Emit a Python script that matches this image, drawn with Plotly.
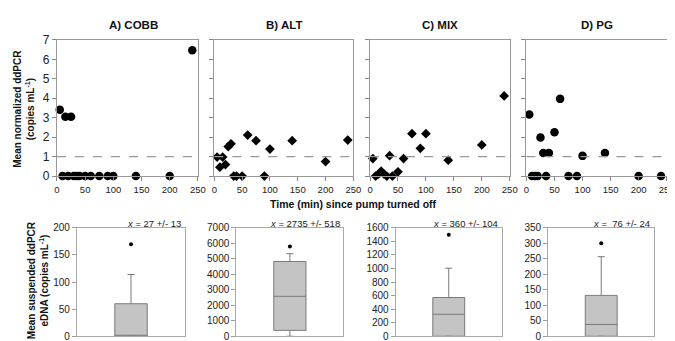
import plotly.graph_objects as go

W, H = 675, 341

# ---------------- data ----------------
times = [5, 10, 15, 20, 25, 30, 35, 40, 50, 60, 75, 90, 100, 140, 200, 240]
cobb = [3.41, 0, 3.05, 0, 3.05, 0, 0, 0, 0, 0, 0, 0, 0, 0, 0, 6.47]
alt = [0.98, 0.46, 0.98, 0.59, 1.52, 1.66, 0, 0, 0, 2.11, 1.82, 0, 1.39, 1.82, 0.75, 1.85]
mix = [0.9, 0.0, 0.1, 0.25, 0.1, 0.0, 1.05, 0.0, 0.22, 0.9, 2.18, 1.43, 2.18, 0.82, 1.6, 4.12]
pg = [3.17, 0, 0, 0, 1.98, 1.19, 0, 1.19, 2.25, 3.97, 0, 0, 1.04, 1.19, 0, 0]

panel_titles = ["A) COBB", "B) ALT", "C) MIX", "D) PG"]
series = [cobb, alt, mix, pg]
symbols = ["circle", "diamond", "diamond", "circle"]

box_q1 = [0, 380, 0, 0]
box_median = [0, 2580, 324, 38]
box_q3 = [60, 4830, 572, 132]
box_low = [0, 0, 0, 0]
box_high = [114, 5330, 1005, 257]
box_outlier = [170, 5800, 1500, 300]
box_ymax = [200, 7000, 1600, 350]
box_dtick = [50, 1000, 200, 50]
mean_text = ["<i>x</i> = 27 +/- 13", "<i>x</i> = 2735 +/- 518",
             "<i>x</i> = 360 +/- 104", "<i>x</i> =  76 +/- 24"]

# ---------------- layout geometry (pixels) ----------------
top_x = [(46.7, 190), (206.7, 348), (365, 507), (524, 666.5)]
top_y = (26, 168)
bot_x = [(67, 177), (229, 338), (391, 499), (546, 654)]
bot_y = (222, 335)

def px(a, b):
    return [a / W, b / W]

def py(t, b):
    return [1 - b / H, 1 - t / H]

FONT = "Liberation Sans, Arial, sans-serif"
fig = go.Figure()
layout = dict(
    width=W, height=H, margin=dict(l=0, r=0, t=0, b=0),
    paper_bgcolor="white", plot_bgcolor="white", showlegend=False,
    font=dict(family=FONT, color="#222"),
)
shapes = []
annotations = []

for i in range(4):
    n = i + 1
    xa = f"xaxis{n if n > 1 else ''}"
    ya = f"yaxis{n if n > 1 else ''}"
    xr = f"x{n if n > 1 else ''}"
    yr = f"y{n if n > 1 else ''}"
    fig.add_trace(go.Scatter(
        x=times, y=series[i], mode="markers", xaxis=xr, yaxis=yr,
        marker=dict(symbol=symbols[i], color="black",
                    size=8.5 if symbols[i] == "circle" else 7.5),
        cliponaxis=False,
    ))
    layout[xa] = dict(domain=px(*top_x[i]), anchor=yr, range=[0, 250],
                      tickvals=[0, 50, 100, 150, 200, 250], ticks="outside",
                      ticklen=4, tickcolor="#888", showline=True, mirror=True,
                      linecolor="#999", linewidth=1, showgrid=False,
                      zeroline=False, tickfont=dict(size=9.5, color="#222"))
    layout[ya] = dict(domain=py(*top_y), anchor=xr, range=[0, 7], dtick=1,
                      ticks="outside", ticklen=4, tickcolor="#888",
                      showline=True, mirror=True, linecolor="#999",
                      linewidth=1, showgrid=False, zeroline=False,
                      showticklabels=(i == 0),
                      tickfont=dict(size=12, color="#222"))
    shapes.append(dict(type="line", xref=f"{xr} domain", yref=yr,
                       x0=0, x1=1, y0=1, y1=1,
                       line=dict(color="#999", width=1.2, dash="dash")))
    cx = (top_x[i][0] + top_x[i][1]) / 2
    if i == 0:
        cx = 125
    annotations.append(dict(text=f"<b>{panel_titles[i]}</b>", x=cx / W,
                            y=1 - 10 / H, xref="paper", yref="paper",
                            showarrow=False, xanchor="center",
                            yanchor="middle",
                            font=dict(size=11.5, color="#111")))

    # bottom boxes
    m = i + 5
    xa = f"xaxis{m}"
    ya = f"yaxis{m}"
    xr = f"x{m}"
    yr = f"y{m}"
    fig.add_trace(go.Box(
        x=[0], q1=[box_q1[i]], median=[box_median[i]], q3=[box_q3[i]],
        lowerfence=[box_low[i]], upperfence=[box_high[i]],
        xaxis=xr, yaxis=yr, width=0.6, whiskerwidth=0.22,
        fillcolor="#c4c4c4", line=dict(color="#7a7a7a", width=1),
        boxpoints=False,
    ))
    fig.add_trace(go.Scatter(
        x=[0], y=[box_outlier[i]], mode="markers", xaxis=xr, yaxis=yr,
        marker=dict(color="black", size=4), cliponaxis=False,
    ))
    layout[xa] = dict(domain=px(*bot_x[i]), anchor=yr, range=[-1, 1],
                      showticklabels=False, ticks="", showline=True,
                      mirror=True, linecolor="#aaa", linewidth=1,
                      showgrid=False, zeroline=False)
    layout[ya] = dict(domain=py(*bot_y), anchor=xr,
                      range=[0, box_ymax[i]], dtick=box_dtick[i],
                      ticks="outside", ticklen=4, tickcolor="#999",
                      showline=True, mirror=True, linecolor="#aaa",
                      linewidth=1, showgrid=False, zeroline=False,
                      tickfont=dict(size=10, color="#222"))
    annotations.append(dict(text=mean_text[i], x=(bot_x[i][1] - 2) / W,
                            y=1 - 217 / H, xref="paper", yref="paper",
                            showarrow=False, xanchor="right",
                            yanchor="middle",
                            font=dict(size=9.5, color="#222")))

annotations.append(dict(text="<b>Time (min) since pump turned off</b>",
                        x=348.5 / W, y=1 - 197 / H, xref="paper",
                        yref="paper", showarrow=False, xanchor="center",
                        yanchor="middle", font=dict(size=10.5, color="#111")))
annotations.append(dict(
    text="<b>Mean normalized ddPCR<br>(copies mL<sup>-1</sup>)</b>",
    x=13 / W, y=1 - 98 / H, xref="paper", yref="paper", showarrow=False,
    textangle=-90, xanchor="center", yanchor="middle",
    font=dict(size=10, color="#111")))
annotations.append(dict(
    text="<b>Mean suspended ddPCR<br>eDNA (copies mL<sup>-1</sup>)</b>",
    x=27 / W, y=1 - 277 / H, xref="paper", yref="paper", showarrow=False,
    textangle=-90, xanchor="center", yanchor="middle",
    font=dict(size=10, color="#111")))

layout["shapes"] = shapes
layout["annotations"] = annotations
fig.update_layout(**layout)
fig.write_html("out.html")
